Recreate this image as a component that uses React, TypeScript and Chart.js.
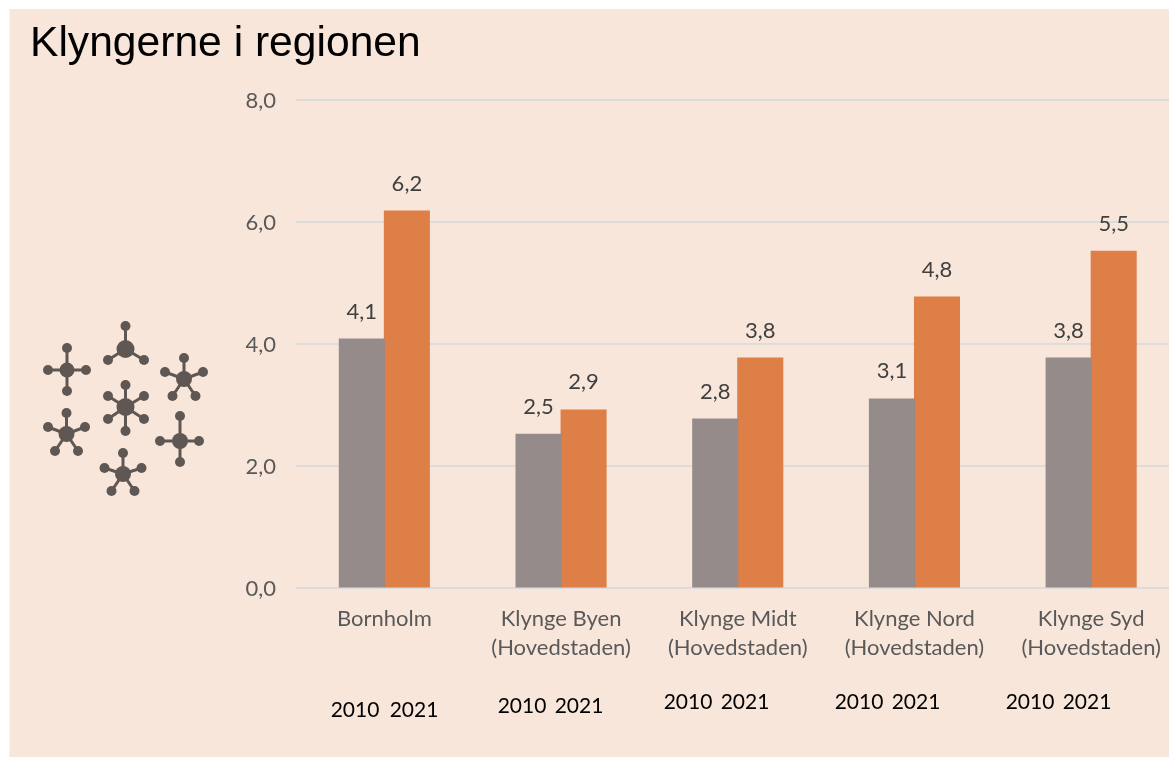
import React, { useEffect, useRef } from "react";
import { Chart, registerables } from "chart.js";

Chart.register(...registerables);

const categories = [
  "Bornholm",
  ["Klynge Byen", "(Hovedstaden)"],
  ["Klynge Midt", "(Hovedstaden)"],
  ["Klynge Nord", "(Hovedstaden)"],
  ["Klynge Syd", "(Hovedstaden)"],
];
const series2010 = [4.08, 2.52, 2.77, 3.1, 3.77];
const series2021 = [6.18, 2.92, 3.77, 4.77, 5.52];
const labels2010 = ["4,1", "2,5", "2,8", "3,1", "3,8"];
const labels2021 = ["6,2", "2,9", "3,8", "4,8", "5,5"];
const yearLabels = ["2010", "2021"];
const titleText = "Klyngerne i regionen";

const FONT = "Lato, Carlito, sans-serif";
const GREY_TEXT = "#595959";

// Decorative network icon: [hub x, hub y, hub radius, ...spoke end points]
const icon: number[][] = [
  [67, 370, 7.5, 67, 348, 48, 370, 86, 370, 67, 391],
  [125.5, 349, 9, 125.5, 326, 108, 360, 144, 360],
  [184, 379, 8, 184, 358, 165, 372, 203, 372, 172.5, 396, 195.5, 396],
  [125.5, 407, 9, 125.5, 385, 108, 396, 144, 396, 108, 419, 144, 419, 125.5, 431],
  [66.5, 434, 8, 66.5, 413, 48, 427, 85, 427, 55, 451, 78, 451],
  [180, 441, 8, 180, 416, 160, 441, 199, 441, 180, 462],
  [123, 474, 8, 123, 453, 104.5, 468, 141.5, 468, 111.5, 491, 134.5, 491],
];

// Hand-placed year captions under each group: [x of 2010, x of 2021, y]
const yearPlacement = [
  [355, 414, 710],
  [522, 579, 706],
  [688, 745, 702],
  [859, 916, 702],
  [1030, 1087, 702],
];

const backdrop = {
  id: "backdrop",
  beforeDraw(chart: any) {
    const { ctx } = chart;
    ctx.save();
    ctx.fillStyle = "#f8e6db";
    ctx.fillRect(9.5, 9, chart.width, 748);
    ctx.restore();
  },
};

const decorations = {
  id: "decorations",
  afterDraw(chart: any) {
    const { ctx } = chart;
    ctx.save();

    // title
    ctx.fillStyle = "#000000";
    ctx.font = "42.6px 'Liberation Sans', Arial, sans-serif";
    ctx.textAlign = "left";
    ctx.textBaseline = "alphabetic";
    ctx.fillText(titleText, 30, 56);

    // data labels
    ctx.fillStyle = "#404040";
    ctx.font = `22px ${FONT}`;
    ctx.textAlign = "center";
    ctx.textBaseline = "middle";
    [labels2010, labels2021].forEach((labels, ds) => {
      chart.getDatasetMeta(ds).data.forEach((bar: any, i: number) => {
        ctx.fillText(labels[i], bar.x, bar.y - 27.5);
      });
    });

    // year captions
    ctx.fillStyle = "#000000";
    ctx.font = `21px ${FONT}`;
    yearPlacement.forEach(([a, b, y]) => {
      ctx.fillText(yearLabels[0], a, y);
      ctx.fillText(yearLabels[1], b, y);
    });

    // icon
    ctx.fillStyle = "#5f5753";
    ctx.strokeStyle = "#5f5753";
    ctx.lineWidth = 3;
    icon.forEach(([x, y, r, ...ends]) => {
      for (let k = 0; k < ends.length; k += 2) {
        ctx.beginPath();
        ctx.moveTo(x, y);
        ctx.lineTo(ends[k], ends[k + 1]);
        ctx.stroke();
        ctx.beginPath();
        ctx.arc(ends[k], ends[k + 1], 5, 0, Math.PI * 2);
        ctx.fill();
      }
      ctx.beginPath();
      ctx.arc(x, y, r, 0, Math.PI * 2);
      ctx.fill();
    });
    ctx.restore();
  },
};

export default function App() {
  const ref = useRef<HTMLCanvasElement>(null);

  useEffect(() => {
    const chart = new Chart(ref.current!, {
      type: "bar",
      data: {
        labels: categories as any,
        datasets: [
          { label: "2010", data: series2010, backgroundColor: "#958b8a", categoryPercentage: 0.51, barPercentage: 1, inflateAmount: 0.5 },
          { label: "2021", data: series2021, backgroundColor: "#dd7f47", categoryPercentage: 0.51, barPercentage: 1, inflateAmount: 0.5 },
        ],
      },
      options: {
        animation: false,
        responsive: false,
        layout: { padding: { left: 0, top: 100, right: 20.5, bottom: 0 } },
        plugins: {
          legend: { display: false },
          title: { display: false },
          tooltip: { enabled: false },
        },
        scales: {
          x: {
            grid: { display: false },
            border: { display: false },
            ticks: {
              color: GREY_TEXT,
              font: { family: FONT, size: 22, lineHeight: 1.32 },
              padding: 8,
              maxRotation: 0,
              autoSkip: false,
            },
            afterFit(scale: any) {
              scale.height = 170;
              scale.paddingLeft = scale.paddingRight = 0;
            },
          },
          y: {
            min: 0,
            max: 8,
            afterFit(scale: any) {
              scale.width = 296;
              scale.paddingTop = scale.paddingBottom = 0;
            },
            grid: { color: "#dcdcdc", lineWidth: 2, drawTicks: false },
            border: { display: false },
            ticks: {
              stepSize: 2,
              padding: 20,
              labelOffset: 1,
              color: GREY_TEXT,
              font: { family: FONT, size: 22 },
              callback: (v: any) => Number(v).toFixed(1).replace(".", ","),
            },
          },
        },
      },
      plugins: [backdrop, decorations],
    } as any);
    return () => chart.destroy();
  }, []);

  return (
    <div style={{ position: "fixed", left: 0, top: 0, width: 1169, height: 758, overflow: "hidden", background: "#ffffff" }}>
      <canvas ref={ref} width={1200} height={758} style={{ display: "block" }} />
    </div>
  );
}
